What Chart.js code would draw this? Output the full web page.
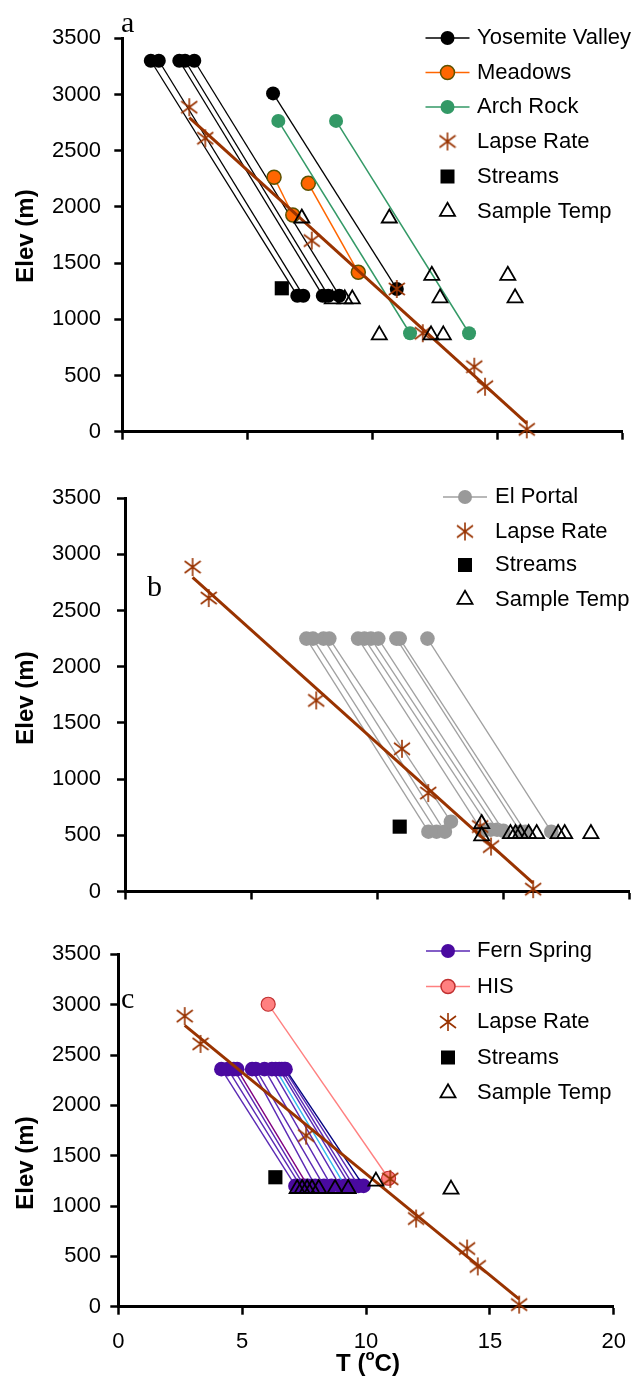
<!DOCTYPE html>
<html><head><meta charset="utf-8">
<script src="https://cdn.jsdelivr.net/npm/chart.js@4/dist/chart.umd.min.js"></script>
<style>
html,body{margin:0;padding:0;background:#fff;}
body{width:640px;height:1377px;position:relative;overflow:hidden;}
canvas{position:absolute;left:0;}
</style></head><body>
<canvas id="ca" width="640" height="465" style="top:0px"></canvas>
<canvas id="cb" width="640" height="460" style="top:465px"></canvas>
<canvas id="cc" width="640" height="452" style="top:925px"></canvas>
<script>
// ---------- tick labels ----------
const X_TICKS = [0, 5, 10, 15, 20];
const Y_TICKS = [0, 500, 1000, 1500, 2000, 2500, 3000, 3500];

// ---------- shared lapse rate ----------
const lapseT = [2.68, 3.32, 7.58, 10.98, 12.02, 14.08, 14.51, 16.18];
const lapseElev = [2887, 2611, 1700, 1270, 876, 578, 400, 21];
const lapseLineT = [2.68, 16.18];
const lapseLineElev = [2795, 75];

// ---------- panel a ----------
const aYoseTopT = [1.14, 1.46, 2.28, 2.51, 2.88, 6.03];
const aYoseTopElev = [3300, 3300, 3300, 3300, 3300, 3010];
const aYoseBotT = [7.00, 7.24, 8.02, 8.24, 8.68, 10.98];
const aYoseBotElev = [1210, 1210, 1210, 1210, 1210, 1270];
const aMeadTopT = [6.07, 7.44];
const aMeadTopElev = [2264, 2210];
const aMeadBotT = [6.82, 9.44];
const aMeadBotElev = [1928, 1418];
const aArchTopT = [6.24, 8.55];
const aArchTopElev = [2765, 2765];
const aArchBotT = [11.51, 13.87];
const aArchBotElev = [876, 876];
const aStreamT = [6.38];
const aStreamElev = [1276];
const aSampleT = [7.18, 10.68, 12.38, 15.42, 12.71, 15.71, 8.40, 8.90, 9.20, 10.28, 12.35, 12.84];
const aSampleElev = [1900, 1900, 1390, 1390, 1190, 1190, 1180, 1180, 1180, 860, 860, 860];

// ---------- panel b ----------
const bElTopT = [7.19, 7.45, 7.87, 8.10, 9.24, 9.49, 9.75, 10.04, 10.76, 10.89, 11.99];
const bElTopElev = [2250, 2250, 2250, 2250, 2250, 2250, 2250, 2250, 2250, 2250, 2250];
const bElBotT = [12.03, 12.35, 12.68, 12.92, 14.15, 14.50, 14.75, 15.00, 15.67, 15.87, 16.90];
const bElBotElev = [532, 532, 532, 621, 540, 550, 550, 540, 532, 532, 532];
const bStreamT = [10.89];
const bStreamElev = [577];
const bSampleT = [14.14, 14.14, 15.28, 15.48, 15.67, 16.00, 16.32, 17.17, 17.43, 18.47];
const bSampleElev = [603, 494, 514, 514, 514, 514, 514, 514, 514, 514];

// ---------- panel c ----------
const cFernTopT = [4.16, 4.42, 4.66, 4.80, 5.40, 5.55, 5.90, 6.20, 6.35, 6.50, 6.60, 6.70, 6.75];
const cFernTopElev = [2360, 2360, 2360, 2360, 2360, 2360, 2360, 2360, 2360, 2360, 2360, 2360, 2360];
const cFernBotT = [7.15, 7.35, 7.50, 7.65, 7.95, 8.30, 8.60, 8.95, 9.15, 9.35, 9.50, 9.70, 9.90];
const cFernBotElev = [1200, 1200, 1200, 1200, 1200, 1200, 1200, 1200, 1200, 1200, 1200, 1200, 1200];
const cHisTopT = [6.05];
const cHisTopElev = [3005];
const cHisBotT = [10.91];
const cHisBotElev = [1276];
const cStreamT = [6.34];
const cStreamElev = [1286];
const cSampleT = [7.22, 7.42, 7.62, 7.82, 8.09, 8.75, 9.28, 10.40, 13.43];
const cSampleElev = [1173, 1173, 1173, 1173, 1173, 1173, 1173, 1246, 1166];

// ---------- styles ----------
const FONT = '"Liberation Sans", Arial, sans-serif';
const BROWN = '#993300';
const FERN_LINE_COLORS = ['#5a28b4', '#5a28b4', '#5a28b4', '#800080', '#5a28b4', '#5a28b4', '#5a28b4',
  '#5a28b4', '#33bbee', '#5a28b4', '#5a28b4', '#5a28b4', '#000080'];

function makeStar(color) {
  const c = document.createElement('canvas');
  c.width = 18; c.height = 20;
  const g = c.getContext('2d');
  g.strokeStyle = color; g.lineWidth = 1.6; g.lineCap = 'butt';
  g.beginPath();
  g.moveTo(9, 1); g.lineTo(9, 19);
  g.moveTo(1, 4); g.lineTo(17, 16);
  g.moveTo(1, 16); g.lineTo(17, 4);
  g.stroke();
  return c;
}
const STAR = makeStar(BROWN);

function pts(xs, ys) { return xs.map((x, i) => ({ x: x, y: ys[i] })); }

function segSets(topT, topE, botT, botE, st, lineColors) {
  return topT.map((t, i) => ({
    showLine: true,
    data: [{ x: t, y: topE[i] }, { x: botT[i], y: botE[i] }],
    borderColor: lineColors ? lineColors[i] : st.line,
    borderWidth: st.lw,
    pointRadius: st.r,
    pointStyle: 'circle',
    pointBackgroundColor: st.fill,
    pointBorderColor: st.stroke || st.fill,
    pointBorderWidth: st.bw || 0,
    clip: false
  }));
}
function lapseSets() {
  return [
    { showLine: true, data: pts(lapseLineT, lapseLineElev), borderColor: BROWN, borderWidth: 3,
      pointRadius: 0, clip: false },
    { showLine: false, data: pts(lapseT, lapseElev), pointStyle: STAR, pointRadius: 8, clip: false }
  ];
}
function streamSet(xs, ys) {
  return { showLine: false, data: pts(xs, ys), pointStyle: 'rect', pointRadius: 10,
    pointBackgroundColor: '#000', pointBorderWidth: 0, clip: false };
}
function sampleSet(xs, ys) {
  return { showLine: false, data: pts(xs, ys), pointStyle: 'triangle', pointRadius: 8.7,
    pointBackgroundColor: 'rgba(0,0,0,0)', pointBorderColor: '#000', pointBorderWidth: 1.8, clip: false };
}

// legend marker drawing
function drawMarker(ctx, kind, x, y, o) {
  ctx.save();
  if (kind === 'circle') {
    ctx.beginPath(); ctx.arc(x, y, 7, 0, Math.PI * 2);
    ctx.fillStyle = o.fill; ctx.fill();
    if (o.stroke) { ctx.lineWidth = o.bw || 1.5; ctx.strokeStyle = o.stroke; ctx.stroke(); }
  } else if (kind === 'rect') {
    ctx.fillStyle = '#000'; ctx.fillRect(x - 7, y - 7, 14, 14);
  } else if (kind === 'triangle') {
    const r = 8.7;
    ctx.beginPath();
    ctx.moveTo(x, y - r); ctx.lineTo(x + 0.866 * r, y + 0.5 * r); ctx.lineTo(x - 0.866 * r, y + 0.5 * r);
    ctx.closePath(); ctx.lineWidth = 1.8; ctx.strokeStyle = '#000'; ctx.stroke();
  } else if (kind === 'star') {
    ctx.drawImage(STAR, x - STAR.width / 2, y - STAR.height / 2);
  }
  ctx.restore();
}

const deco = {
  id: 'deco',
  afterDraw(chart, args, o) {
    const ctx = chart.ctx, off = o.off;
    ctx.save();
    ctx.fillStyle = '#000';
    // panel letter
    ctx.font = '30px "Liberation Serif", "Times New Roman", serif';
    ctx.textAlign = 'left'; ctx.textBaseline = 'alphabetic';
    ctx.fillText(o.letter, o.letterX, o.letterY - off);
    // y title
    ctx.save();
    ctx.translate(26, o.yTitleY - off); ctx.rotate(-Math.PI / 2);
    ctx.font = 'bold 24px ' + FONT; ctx.textAlign = 'center'; ctx.textBaseline = 'middle';
    ctx.fillText('Elev (m)', 0, 0);
    ctx.restore();
    // x title
    if (o.xTitle) {
      const bf = 'bold 24px ' + FONT, sf = 'bold 15px ' + FONT;
      ctx.font = bf; const w1 = ctx.measureText('T (').width, w3 = ctx.measureText('C)').width;
      ctx.font = sf; const w2 = ctx.measureText('o').width;
      let x = 368 - (w1 + w2 + w3) / 2, y = 1371 - off;
      ctx.textAlign = 'left'; ctx.textBaseline = 'alphabetic';
      ctx.font = bf; ctx.fillText('T (', x, y); x += w1;
      ctx.font = sf; ctx.fillText('o', x, y - 11); x += w2;
      ctx.font = bf; ctx.fillText('C)', x, y);
    }
    // legend
    ctx.font = '22px ' + FONT; ctx.textAlign = 'left'; ctx.textBaseline = 'middle';
    o.legend.forEach((it, i) => {
      const y = o.rows[i] - off;
      if (it.line) {
        ctx.beginPath(); ctx.moveTo(o.mx - 22, y); ctx.lineTo(o.mx + 22, y);
        ctx.strokeStyle = it.line; ctx.lineWidth = 1.5; ctx.stroke();
      }
      drawMarker(ctx, it.kind, o.mx, y, it);
      ctx.fillStyle = '#000';
      ctx.fillText(it.label, o.tx, y);
    });
    ctx.restore();
  }
};

function makeChart(id, H, off, area, datasets, deco_opts, showX, yPad) {
  datasets.forEach((d, i) => { d.order = -i; });
  return new Chart(document.getElementById(id), {
    type: 'scatter',
    data: { datasets: datasets },
    options: {
      responsive: false, animation: false, events: [],
      layout: { padding: { top: area.top - off, right: 640 - area.right, left: 0, bottom: 0 } },
      plugins: { legend: { display: false }, tooltip: { enabled: false }, deco: deco_opts },
      scales: {
        x: {
          type: 'linear', min: 0, max: 20,
          afterBuildTicks: s => { s.ticks = X_TICKS.map(v => ({ value: v })); },
          ticks: { display: showX, font: { family: FONT, size: 22 }, color: '#000', padding: 14,
            maxRotation: 0, autoSkip: false, callback: v => String(v) },
          grid: { drawOnChartArea: false, drawTicks: true, tickLength: 8, tickWidth: 2.5, tickColor: '#000' },
          border: { display: true, color: '#000', width: 3 },
          afterFit: s => { s.height = H - (area.bottom - off); }
        },
        y: {
          type: 'linear', min: 0, max: 3500,
          afterBuildTicks: s => { s.ticks = Y_TICKS.map(v => ({ value: v })); },
          ticks: { font: { family: FONT, size: 22 }, color: '#000', padding: yPad,
            autoSkip: false, callback: v => String(v) },
          grid: { drawOnChartArea: false, drawTicks: true, tickLength: 8, tickWidth: 2.5, tickColor: '#000' },
          border: { display: true, color: '#000', width: 3 },
          afterFit: s => { s.width = area.left; }
        }
      }
    },
    plugins: [deco]
  });
}

// ---------- panel a ----------
const setsA = [].concat(
  segSets(aYoseTopT, aYoseTopElev, aYoseBotT, aYoseBotElev, { line: '#000', lw: 1.3, r: 7, fill: '#000' }),
  segSets(aMeadTopT, aMeadTopElev, aMeadBotT, aMeadBotElev, { line: '#ff6600', lw: 1.5, r: 7, fill: '#ff6600', stroke: '#5c5200', bw: 1.5 }),
  segSets(aArchTopT, aArchTopElev, aArchBotT, aArchBotElev, { line: '#339966', lw: 1.5, r: 7, fill: '#339966' }),
  lapseSets(),
  [streamSet(aStreamT, aStreamElev), sampleSet(aSampleT, aSampleElev)]
);
makeChart('ca', 465, 0, { left: 122.3, right: 622.3, top: 38.3, bottom: 431.7 }, setsA, {
  off: 0, letter: 'a', letterX: 121, letterY: 32, yTitleY: 236,
  mx: 447.5, tx: 477, rows: [38, 72.5, 107, 141.5, 176.5, 211.5],
  legend: [
    { label: 'Yosemite Valley', kind: 'circle', line: '#000', fill: '#000' },
    { label: 'Meadows', kind: 'circle', line: '#ff6600', fill: '#ff6600', stroke: '#5c5200' },
    { label: 'Arch Rock', kind: 'circle', line: '#339966', fill: '#339966' },
    { label: 'Lapse Rate', kind: 'star' },
    { label: 'Streams', kind: 'rect' },
    { label: 'Sample Temp', kind: 'triangle' }
  ]
}, false, 13.3);

// ---------- panel b ----------
const setsB = [].concat(
  segSets(bElTopT, bElTopElev, bElBotT, bElBotElev, { line: '#a0a0a0', lw: 1.3, r: 7.3, fill: '#999999' }),
  lapseSets(),
  [streamSet(bStreamT, bStreamElev), sampleSet(bSampleT, bSampleElev)]
);
makeChart('cb', 460, 465, { left: 125, right: 637.6, top: 498.1, bottom: 891.5 }, setsB, {
  off: 465, letter: 'b', letterX: 147, letterY: 596, yTitleY: 698,
  mx: 465, tx: 495, rows: [497, 531.5, 565, 599.5],
  legend: [
    { label: 'El Portal', kind: 'circle', line: '#a0a0a0', fill: '#999999' },
    { label: 'Lapse Rate', kind: 'star' },
    { label: 'Streams', kind: 'rect' },
    { label: 'Sample Temp', kind: 'triangle' }
  ]
}, false, 16);

// ---------- panel c ----------
const setsC = [].concat(
  segSets(cFernTopT, cFernTopElev, cFernBotT, cFernBotElev, { line: '#5a28b4', lw: 1.4, r: 7.3, fill: '#4a0aa0' }, FERN_LINE_COLORS),
  segSets(cHisTopT, cHisTopElev, cHisBotT, cHisBotElev, { line: '#ff8080', lw: 1.4, r: 7, fill: '#ff8080', stroke: '#c03030', bw: 1.2 }),
  lapseSets(),
  [streamSet(cStreamT, cStreamElev), sampleSet(cSampleT, cSampleElev)]
);
makeChart('cc', 452, 925, { left: 118.3, right: 621.3, top: 954.4, bottom: 1306.7 }, setsC, {
  off: 925, letter: 'c', letterX: 121, letterY: 1008, yTitleY: 1163, xTitle: true,
  mx: 448, tx: 477, rows: [951, 986.5, 1022, 1057.5, 1093],
  legend: [
    { label: 'Fern Spring', kind: 'circle', line: '#5a28b4', fill: '#4a0aa0' },
    { label: 'HIS', kind: 'circle', line: '#ff8080', fill: '#ff8080', stroke: '#c03030' },
    { label: 'Lapse Rate', kind: 'star' },
    { label: 'Streams', kind: 'rect' },
    { label: 'Sample Temp', kind: 'triangle' }
  ]
}, true, 9.3);
</script>
</body></html>
